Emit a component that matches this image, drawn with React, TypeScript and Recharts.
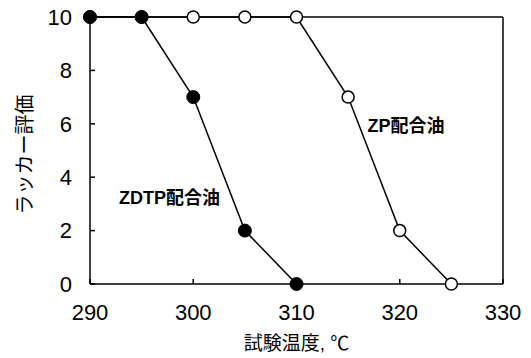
import { LineChart, Line, XAxis, YAxis, ReferenceLine, ReferenceDot, Label } from 'recharts';

const X_TICKS = [290, 300, 310, 320, 330];
const Y_TICKS = [0, 2, 4, 6, 8, 10];

// lacquer rating vs test temperature
const zdtpTemps = [290, 295, 300, 305, 310];
const zdtpRating = [10, 10, 7, 2, 0];
const zpTemps = [290, 295, 300, 305, 310, 315, 320, 325];
const zpRating = [10, 10, 10, 10, 10, 7, 2, 0];

const zdtp = zdtpTemps.map((x, i) => ({ x, y: zdtpRating[i] }));
const zp = zpTemps.map((x, i) => ({ x, y: zpRating[i] }));

const FONT = '"Liberation Sans", Arial, Helvetica, sans-serif';
const CJK = '"Liberation Sans", "Noto Sans CJK JP", sans-serif';

export default function App() {
    return (
        <div style={{ width: 531, height: 358 }}>
            <style>{`body{margin:0}`}</style>
            <LineChart width={531} height={358} margin={{ top: 17, right: 28, bottom: 0, left: 0 }}>
                <XAxis
                    dataKey="x"
                    type="number"
                    domain={[290, 330]}
                    ticks={X_TICKS}
                    height={74}
                    stroke="#000"
                    strokeWidth={1.5}
                    tickSize={-5}
                    tickMargin={25}
                    tick={{ fill: '#000', fontSize: 22, fontFamily: FONT }}
                >
                    <Label value="試験温度, ℃" position="insideBottom" offset={8} fill="#000" fontSize={19} fontFamily={CJK} />
                </XAxis>
                <YAxis
                    type="number"
                    domain={[0, 10]}
                    ticks={Y_TICKS}
                    width={90}
                    stroke="#000"
                    strokeWidth={1.5}
                    tickSize={-5}
                    tickMargin={23}
                    tick={{ fill: '#000', fontSize: 22, fontFamily: FONT }}
                >
                    <Label
                        value="ラッカー評価"
                        angle={-90}
                        position="insideLeft"
                        offset={25}
                        textAnchor="middle"
                        dy={4}
                        fill="#000"
                        fontSize={20}
                        fontFamily={CJK}
                    />
                </YAxis>
                <ReferenceLine y={10} stroke="#000" strokeWidth={1.5} />
                <ReferenceLine x={330} stroke="#000" strokeWidth={1.5} />
                <Line
                    data={zp}
                    dataKey="y"
                    stroke="#000"
                    strokeWidth={1.5}
                    dot={{ r: 6, fill: '#fff', stroke: '#000', strokeWidth: 1.5 }}
                    isAnimationActive={false}
                />
                <Line
                    data={zdtp}
                    dataKey="y"
                    stroke="#000"
                    strokeWidth={1.5}
                    dot={{ r: 6.5, fill: '#000', stroke: '#000', strokeWidth: 1 }}
                    isAnimationActive={false}
                />
                <ReferenceDot x={297.7} y={3.22} r={0} stroke="none">
                    <Label value="ZDTP配合油" position="center" fill="#000" fontSize={18} fontWeight="bold" fontFamily={CJK} />
                </ReferenceDot>
                <ReferenceDot x={320.6} y={5.92} r={0} stroke="none">
                    <Label value="ZP配合油" position="center" fill="#000" fontSize={18} fontWeight="bold" fontFamily={CJK} />
                </ReferenceDot>
            </LineChart>
        </div>
    );
}
